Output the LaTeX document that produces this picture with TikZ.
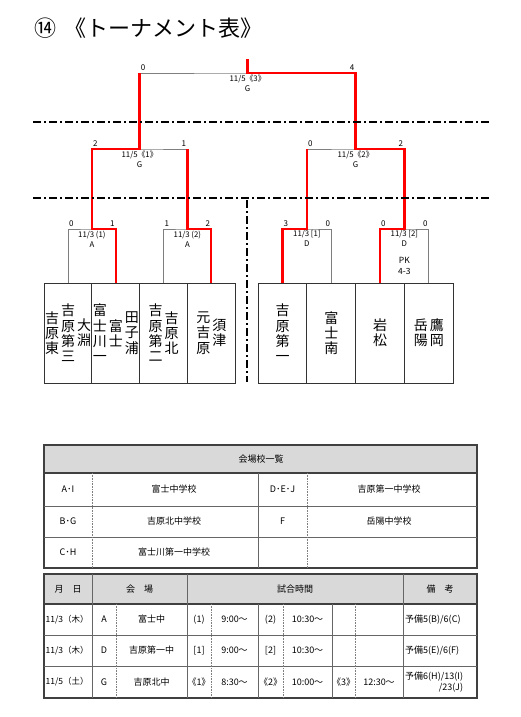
\documentclass[tikz,border=0pt]{standalone}
\usepackage{fontspec}
\setmainfont{Noto Sans CJK JP}
\usetikzlibrary{positioning,calc}
\definecolor{winred}{HTML}{FF0000}
\definecolor{linegray}{HTML}{7F7F7F}
\definecolor{headgray}{HTML}{D9D9D9}

\begin{document}
\begin{tikzpicture}[x=1pt, y=-1pt,
  teambox/.style={draw=black!80, line width=0.9pt, minimum width=#1, minimum height=100pt,
    inner sep=0pt, outer sep=0pt},
  teambox/.default=47.75pt,
  teamname/.style={font=\fontsize{14}{15.3}\selectfont, align=center, inner sep=0pt},
  bracket/.style={draw=linegray, line width=1pt},
  win/.style={draw=winred, line width=2.4pt},
  score/.style={font=\fontsize{8}{9}\selectfont, inner sep=1pt, yshift=1.5pt},
  match/.style={font=\fontsize{7.8}{10}\selectfont, align=center, inner sep=0pt},
  sepline/.style={line width=1.3pt, dash pattern=on 8pt off 3pt on 2pt off 3pt},
  tblframe/.style={draw=black!75, line width=1.2pt},
  grid/.style={draw=black!60, line width=0.8pt},
  dotgrid/.style={draw=black!50, line width=0.6pt, densely dotted},
  cell/.style={font=\fontsize{9}{11}\selectfont, inner sep=0pt}
]
  \useasboundingbox (0,0) rectangle (520,717);

  \node[anchor=west, font=\fontsize{22}{26}\selectfont, inner sep=0pt] (title) at (34,28)
    {⑭\hspace{8pt}《トーナメント表》};

  % team boxes
  \node[teambox] (t1) at (68,333) {};
  \node[teambox, right=0pt of t1] (t2) {};
  \node[teambox, right=0pt of t2] (t3) {};
  \node[teambox, right=0pt of t3] (t4) {};
  \node[teambox=48.75pt] (t5) at (282.5,333) {};
  \node[teambox=48.75pt, right=0pt of t5] (t6) {};
  \node[teambox=48.75pt, right=0pt of t6] (t7) {};
  \node[teambox=48.75pt, right=0pt of t7] (t8) {};

  \node[teamname] (n1a) at ([xshift=-16pt]t1.center) {吉\\原\\東};
  \node[teamname] (n1b) at (t1.center) {吉\\原\\第\\三};
  \node[teamname] (n1c) at ([xshift=16pt]t1.center) {大\\淵};
  \node[teamname] (n2a) at ([xshift=-16pt]t2.center) {富\\士\\川\\一};
  \node[teamname] (n2b) at (t2.center) {富\\士};
  \node[teamname] (n2c) at ([xshift=16pt]t2.center) {田\\子\\浦};
  \node[teamname] (n3a) at ([xshift=-8pt]t3.center) {吉\\原\\第\\二};
  \node[teamname] (n3b) at ([xshift=8pt]t3.center) {吉\\原\\北};
  \node[teamname] (n4a) at ([xshift=-8pt]t4.center) {元\\吉\\原};
  \node[teamname] (n4b) at ([xshift=8pt]t4.center) {須\\津};
  \node[teamname] (n5) at (t5.center) {吉\\原\\第\\一};
  \node[teamname] (n6) at (t6.center) {富\\士\\南};
  \node[teamname] (n7) at (t7.center) {岩\\松};
  \node[teamname] (n8a) at ([xshift=-8pt]t8.center) {岳\\陽};
  \node[teamname] (n8b) at ([xshift=8pt]t8.center) {鷹\\岡};

  % bracket
  \coordinate (q1) at ($(t1.north)!.5!(t2.north)+(0,-54)$);
  \coordinate (q2) at ($(t3.north)!.5!(t4.north)+(0,-54)$);
  \coordinate (q3) at ($(t5.north)!.5!(t6.north)+(0,-54)$);
  \coordinate (q4) at ($(t7.north)!.5!(t8.north)+(0,-54)$);
  \coordinate (s1) at ($(q1)!.5!(q2)+(0,-80)$);
  \coordinate (s2) at ($(q3)!.5!(q4)+(0,-80)$);
  \coordinate (fin) at ($(s1)!.5!(s2)+(0,-76)$);
  \coordinate (champ) at ($(fin)+(0,-14)$);

  \foreach \a/\b/\m in {t1/t2/q1, t3/t4/q2, t5/t6/q3, t7/t8/q4}
    \draw[bracket] (\a.north) |- (\m) -| (\b.north);
  \draw[bracket] (q1) |- (s1) -| (q2);
  \draw[bracket] (q3) |- (s2) -| (q4);
  \draw[bracket] (s1) |- (fin) -| (s2);

  \draw[win] (t2.north) |- (q1) |- (s1) -- (s1 |- fin);
  \draw[win] (t4.north) |- (q2) -- (q2 |- s1);
  \draw[win] (t5.north) |- (q3) -- (q3 |- s2);
  \draw[win] (t7.north) |- (q4) |- (s2) |- (fin) -- (champ);

  \foreach \a/\b/\m/\x/\y in {t1/t2/q1/0/1, t3/t4/q2/1/2, t5/t6/q3/3/0, t7/t8/q4/0/0}{
    \node[score, anchor=south west] (\m-l) at (\a.north |- \m) {\x};
    \node[score, anchor=south east] (\m-r) at (\b.north |- \m) {\y};
  }
  \node[score, anchor=south west] (s1-l) at (q1 |- s1) {2};
  \node[score, anchor=south east] (s1-r) at (q2 |- s1) {1};
  \node[score, anchor=south west] (s2-l) at (q3 |- s2) {0};
  \node[score, anchor=south east] (s2-r) at (q4 |- s2) {2};
  \node[score, anchor=south west] (fin-l) at (s1 |- fin) {0};
  \node[score, anchor=south east] (fin-r) at (s2 |- fin) {4};

  \node[match, below=1.5pt of q1] (m-q1) {11/3 (1)\\A};
  \node[match, below=1.5pt of q2] (m-q2) {11/3 (2)\\A};
  \node[match, below=1.5pt of q3] (m-q3) {11/3 [1]\\D};
  \node[match, below=1.5pt of q4] (m-q4) {11/3 [2]\\D\\[7pt]{\fontsize{8.5}{10}\selectfont PK}\\[1pt]{\fontsize{8.5}{10}\selectfont 4-3}};
  \node[match, below=1.5pt of s1] (m-s1) {11/5《1》\\G};
  \node[match, below=1.5pt of s2] (m-s2) {11/5《2》\\G};
  \node[match, below=1.5pt of fin] (m-fin) {11/5《3》\\G};

  \draw[sepline] (33,122) -- (490,122);
  \draw[sepline] (33,198) -- (490,198);
  \draw[sepline] (247,200) -- (247,382);

  % venue list
  \draw[tblframe, fill=headgray] (44,445) rectangle (477,473);
  \draw[tblframe] (44,445) rectangle (477,568);
  \foreach \y in {506,537} \draw[grid] (44,\y) -- (477,\y);
  \draw[grid] (258,473) -- (258,568);
  \foreach \x in {92,307} \draw[dotgrid] (\x,473) -- (\x,568);
  \node[cell] (venue) at (261,459) {会場校一覧};
  \foreach \y/\ca/\sa/\cb/\sb [count=\i] in {489.5/A･I/富士中学校/D･E･J/吉原第一中学校,
      521.5/B･G/吉原北中学校/F/岳陽中学校, 552.5/C･H/富士川第一中学校/{}/{}}{
    \node[cell] (code\i a) at (68,\y) {\ca};
    \node[cell] (school\i a) at (174,\y) {\sa};
    \node[cell] (code\i b) at (282.5,\y) {\cb};
    \node[cell] (school\i b) at (389,\y) {\sb};
  }

  % schedule
  \draw[tblframe, fill=headgray] (44,574) rectangle (477,604);
  \draw[tblframe] (44,574) rectangle (477,698);
  \foreach \y in {635,666} \draw[grid] (44,\y) -- (477,\y);
  \foreach \x in {92,187,403} \draw[grid] (\x,574) -- (\x,698);
  \foreach \x in {258,332} \draw[grid] (\x,604) -- (\x,698);
  \foreach \x in {116,211,283,355} \draw[dotgrid] (\x,604) -- (\x,698);
  \node[cell] (h-date) at (68,589) {月　日};
  \node[cell] (h-venue) at (139.5,589) {会　場};
  \node[cell] (h-time) at (295,589) {試合時間};
  \node[cell] (h-note) at (440,589) {備　考};
  \foreach \y/\d/\v/\n/\ka/\ta/\kb/\tb/\kc/\tc [count=\i] in {
      619.5/{11/3（木）}/A/富士中/(1)/9:00～/(2)/10:30～/{}/{},
      650.5/{11/3（木）}/D/吉原第一中/[1]/9:00～/[2]/10:30～/{}/{},
      682/{11/5（土）}/G/吉原北中/《1》/8:30～/《2》/10:00～/《3》/12:30～}{
    \node[cell, anchor=west, font=\fontsize{8.5}{11}\selectfont] (day\i) at (45.5,\y) {\d};
    \node[cell] (site\i) at (104,\y) {\v};
    \node[cell] (school\i) at (151.5,\y) {\n};
    \node[cell] (ga\i) at (199,\y) {\ka};
    \node[cell] (ta\i) at (234.5,\y) {\ta};
    \node[cell] (gb\i) at (270.5,\y) {\kb};
    \node[cell] (tb\i) at (307.5,\y) {\tb};
    \node[cell] (gc\i) at (343.5,\y) {\kc};
    \node[cell] (tc\i) at (379,\y) {\tc};
  }
  \node[cell, anchor=west] (note1) at (405,619.5) {予備5(B)/6(C)};
  \node[cell, anchor=west] (note2) at (405,650.5) {予備5(E)/6(F)};
  \node[cell, anchor=west, align=right] (note3) at (405,682) {予備6(H)/13(I)\\/23(J)};
\end{tikzpicture}
\end{document}
